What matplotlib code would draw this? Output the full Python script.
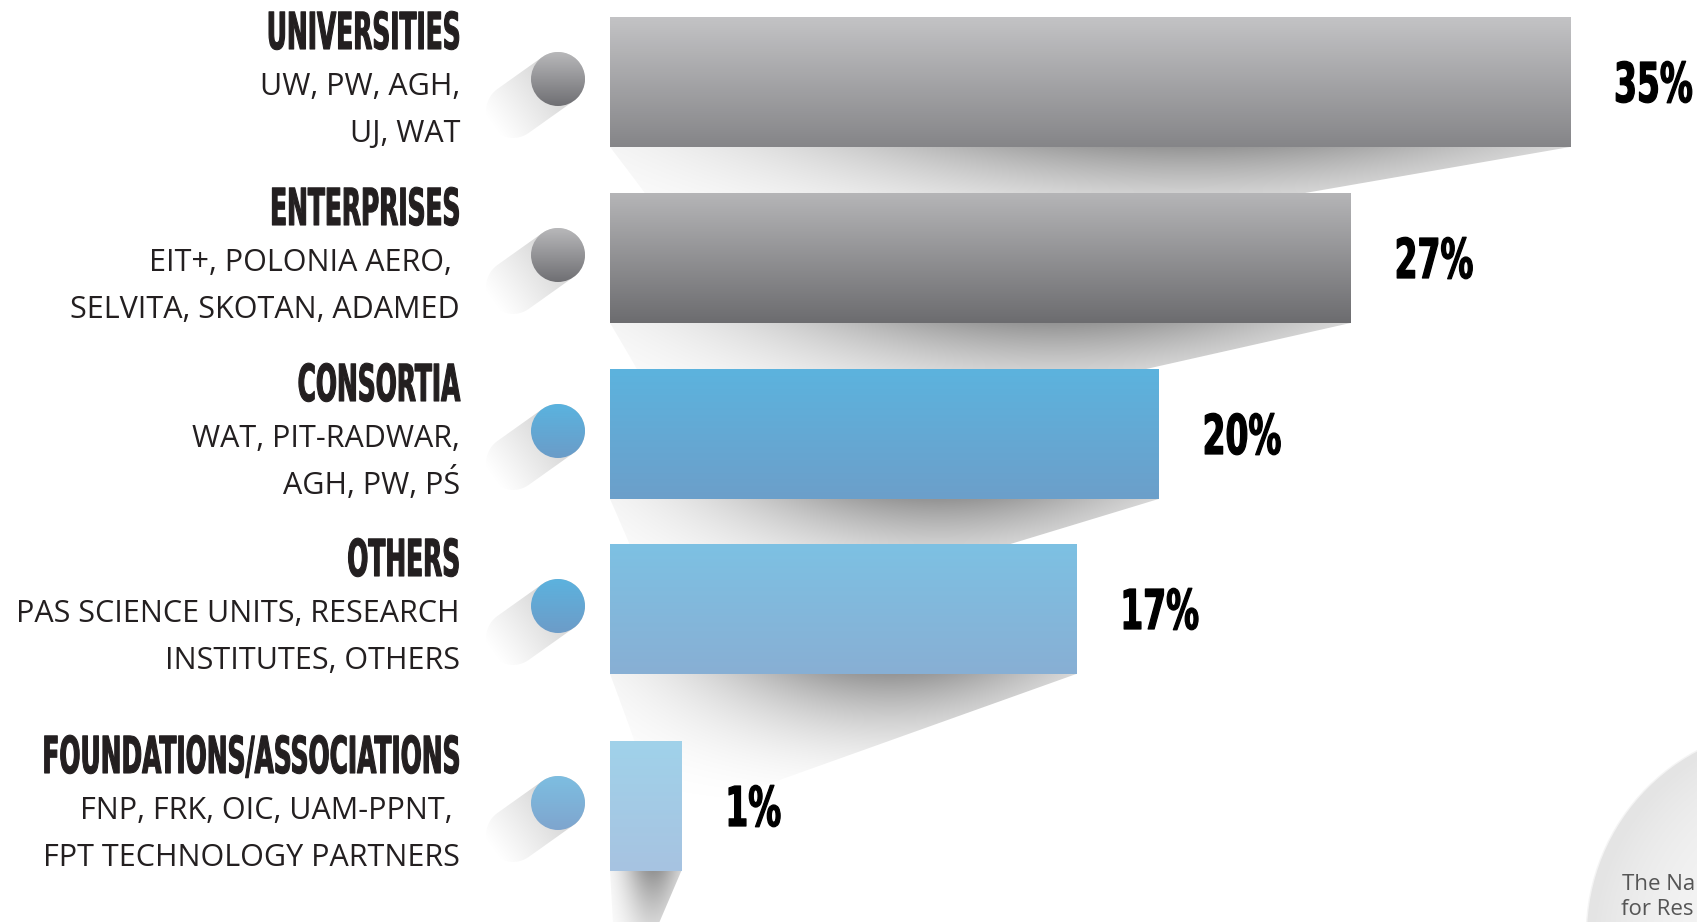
import numpy as np
import matplotlib
matplotlib.use('Agg')
import matplotlib.pyplot as plt
import matplotlib.patheffects as pe
from matplotlib.patches import Circle, Polygon
from matplotlib.text import Text
from matplotlib.transforms import Affine2D, Bbox
from matplotlib.colors import LinearSegmentedColormap

# ---- data ----
CATEGORIES = ['UNIVERSITIES', 'ENTERPRISES', 'CONSORTIA', 'OTHERS', 'FOUNDATIONS/ASSOCIATIONS']
MEMBERS_1 = ['UW, PW, AGH,', 'EIT+, POLONIA AERO, ', 'WAT, PIT-RADWAR,',
             'PAS SCIENCE UNITS, RESEARCH', 'FNP, FRK, OIC, UAM-PPNT, ']
MEMBERS_2 = ['UJ, WAT', 'SELVITA, SKOTAN, ADAMED', 'AGH, PW, PŚ',
             'INSTITUTES, OTHERS', 'FPT TECHNOLOGY PARTNERS']
SHARE = [35, 27, 20, 17, 1]

# ---- style ----
BAR_TOP = ['#c3c3c5', '#b5b5b7', '#5cb3de', '#7dc1e3', '#a0d2ea']
BAR_BOT = ['#858588', '#6c6c6f', '#6c9fca', '#88afd4', '#a7c3e1']
DOT_TOP = ['#b8b8ba', '#b8b8ba', '#5ab3df', '#5cb2de', '#7dbee1']
DOT_BOT = ['#6f6f73', '#6f6f73', '#6b9cc8', '#6d9cc8', '#7fa5ce']
TXT = '#231f20'

W, H = 1697, 922
ROW_Y = [82, 258, 434, 609, 806]   # row centres, px from top
BAR_H = 130
BAR_X0 = 610                       # px where 0 % sits
PX_PER_PCT = 27.43
MIN_W = 2.6                        # smallest drawn bar (1 % row)
LABEL_X = 460
DOT_X, DOT_R, DOT_DY = 558, 27, -3
SH_OFF = np.array([-45.0, 32.0])   # long shadow of the dots


class Stretch(pe.AbstractPathEffect):
    """draw the glyph paths taller, anchored at the text baseline"""
    def __init__(self, text, sy, lw):
        super().__init__()
        self.text, self.sy, self.lw = text, sy, lw

    def draw_path(self, renderer, gc, tpath, affine, rgbFace=None):
        y0 = self.text.get_transform().transform(self.text.get_position())[1]
        aff = affine + Affine2D().translate(0, -y0).scale(1, self.sy).translate(0, y0)
        gc0 = renderer.new_gc()
        gc0.copy_properties(gc)
        if self.lw and rgbFace is not None:
            gc0.set_linewidth(self.lw)
            gc0.set_foreground(rgbFace)
        renderer.draw_path(gc0, tpath, aff, rgbFace)
        gc0.restore()


class TallText(Text):
    def __init__(self, *a, sy=1.0, lw=0.0, **kw):
        super().__init__(*a, **kw)
        self._sy = sy
        self.set_path_effects([Stretch(self, sy, lw)])

    def get_window_extent(self, renderer=None, dpi=None):
        bb = super().get_window_extent(renderer, dpi)
        y0 = self.get_transform().transform(self.get_position())[1]
        return Bbox([[bb.x0, y0 + (bb.y0 - y0) * self._sy],
                     [bb.x1, y0 + (bb.y1 - y0) * self._sy]])


def tall_text(axis, x, y, s, sy, lw, **kw):
    t = TallText(x, y, s, sy=sy, lw=lw, **kw)
    t.set_transform(axis.transData)
    axis.add_artist(t)
    return t


def vgrad(axis, clip, x0, x1, y0, y1, c_top, c_bot, z):
    cm = LinearSegmentedColormap.from_list('g', [c_top, c_bot])
    im = axis.imshow(np.linspace(0, 1, 256)[:, None], cmap=cm, extent=(x0, x1, y1, y0),
                     origin='upper', aspect='auto', zorder=z, interpolation='bilinear')
    im.set_clip_path(clip)


def alpha_img(axis, clip, x0, x1, y0, y1, alpha, z, rgb=(0, 0, 0)):
    img = np.zeros(alpha.shape + (4,))
    img[..., :3] = rgb
    img[..., 3] = np.clip(alpha, 0, 1)
    im = axis.imshow(img, extent=(x0, x1, y1, y0), origin='upper', aspect='auto',
                     zorder=z, interpolation='bilinear')
    im.set_clip_path(clip)


fig = plt.figure(figsize=(W / 100, H / 100), dpi=100)
deco = fig.add_axes([0, 0, 1, 1], zorder=0)
ax = fig.add_axes([0, 0, 1, 1], zorder=1)
for a in (deco, ax):
    a.axis('off')
deco.set_xlim(0, W); deco.set_ylim(H, 0)
ax.set_xlim(-BAR_X0 / PX_PER_PCT, (W - BAR_X0) / PX_PER_PCT); ax.set_ylim(H, 0)

# ---- bars ----
shown = [max(v, MIN_W) for v in SHARE]
bars = ax.barh(ROW_Y, shown, left=0, height=BAR_H, color='none', edgecolor='none', zorder=3)
to_px = ax.transData + deco.transData.inverted()
for i, b in enumerate(bars):
    x0, y0, bw, bh = b.get_x(), b.get_y(), b.get_width(), b.get_height()
    vgrad(ax, b, x0, x0 + bw, y0, y0 + bh, BAR_TOP[i], BAR_BOT[i], 3)

    # soft fan shadow under the bar, in px
    xl = to_px.transform((x0, 0))[0]
    xr = to_px.transform((x0 + bw, 0))[0]
    yb = y0 + bh
    D = 150.0
    s = 0.006 * (xr - xl)
    xe = xr - s * D
    tt = np.linspace(0, 1, 40)
    cx_, cy_ = xl + 0.12 * (xr - xl), yb + D
    curve = [((1 - t) ** 2 * xe + 2 * (1 - t) * t * cx_ + t ** 2 * xl,
              (1 - t) ** 2 * (yb + D) + 2 * (1 - t) * t * cy_ + t ** 2 * yb) for t in tt]
    poly = Polygon([(xl, yb), (xr, yb)] + curve, closed=True, facecolor='none', edgecolor='none')
    deco.add_patch(poly)
    X, Y = np.meshgrid(np.linspace(xl, xr, 300), np.linspace(yb, yb + D, 120))
    u = (X - xl) / (xr - xl)
    t = (Y - yb) / D
    al = 0.42 * (1 - t) ** 2.2 * np.exp(-((u - 0.6) / 0.4) ** 2)
    alpha_img(deco, poly, xl, xr, yb, yb + D, al, 1)

# ---- percentage labels ----
for i, b in enumerate(bars):
    tall_text(ax, b.get_x() + b.get_width() + 44 / PX_PER_PCT, ROW_Y[i] + 20, f'{SHARE[i]}%',
              1.667, 0.9, ha='left', va='baseline', fontfamily='DejaVu Sans',
              fontweight='bold', fontsize=23.7, color='black', zorder=5)

# ---- dots with long shadows, and text ----
L = np.hypot(*SH_OFF)
d = SH_OFF / L
th = np.arctan2(d[1], d[0])
for i, c in enumerate(ROW_Y):
    C = np.array([DOT_X, c + DOT_DY])
    F = C + SH_OFF
    a1 = np.linspace(th - np.pi / 2, th + np.pi / 2, 40)
    a2 = np.linspace(th + np.pi / 2, th + 3 * np.pi / 2, 40)
    pts = np.vstack([F + DOT_R * np.c_[np.cos(a1), np.sin(a1)],
                     C + DOT_R * np.c_[np.cos(a2), np.sin(a2)]])
    cap = Polygon(pts, closed=True, facecolor='none', edgecolor='none')
    deco.add_patch(cap)
    bx0, by0 = pts.min(axis=0)
    bx1, by1 = pts.max(axis=0)
    X, Y = np.meshgrid(np.linspace(bx0, bx1, 120), np.linspace(by0, by1, 120))
    p = ((X - C[0]) * d[0] + (Y - C[1]) * d[1]) / (L + DOT_R)
    al = 0.17 * (1 - np.clip(p, 0, 1)) ** 1.1
    alpha_img(deco, cap, bx0, bx1, by0, by1, al, 1)

    dot = Circle(C, DOT_R, facecolor='none', edgecolor='none', zorder=2)
    deco.add_patch(dot)
    vgrad(deco, dot, C[0] - DOT_R, C[0] + DOT_R, C[1] - DOT_R, C[1] + DOT_R,
          DOT_TOP[i], DOT_BOT[i], 2)

    tall_text(deco, LABEL_X, c - 33, CATEGORIES[i], 2.05, 0.8, ha='right', va='baseline',
              fontfamily='DejaVu Sans', fontweight='bold', fontsize=17.9, color=TXT, zorder=4)
    deco.text(LABEL_X, c + 13, MEMBERS_1[i], ha='right', va='baseline',
              fontfamily='Open Sans', fontsize=22.0, color=TXT, zorder=4)
    deco.text(LABEL_X, c + 60, MEMBERS_2[i], ha='right', va='baseline',
              fontfamily='Open Sans', fontsize=22.0, color=TXT, zorder=4)

# ---- logo disc in the corner ----
wm = Circle((1795, 935), 208, facecolor='none', edgecolor='#f4f4f4', lw=2, zorder=1)
deco.add_patch(wm)
X, Y = np.meshgrid(np.linspace(1587, 2003, 200), np.linspace(727, 1143, 200))
rr = np.hypot(X - 1820, Y - 950) / 230
g = 0.965 - 0.07 * np.clip(rr, 0, 1) ** 3
img = np.dstack([g, g, g, np.ones_like(g)])
im = deco.imshow(img, extent=(1587, 2003, 1143, 727), origin='upper', aspect='auto',
                 zorder=1, interpolation='bilinear')
im.set_clip_path(wm)
deco.text(1622, 890, 'The Na', ha='left', va='baseline', fontfamily='Open Sans',
          fontsize=16, color='#555555', zorder=4)
deco.text(1621, 915, 'for Res', ha='left', va='baseline', fontfamily='Open Sans',
          fontsize=16, color='#555555', zorder=4)

deco.set_xlim(0, W); deco.set_ylim(H, 0)
ax.set_xlim(-BAR_X0 / PX_PER_PCT, (W - BAR_X0) / PX_PER_PCT); ax.set_ylim(H, 0)
fig.savefig('out.png', dpi=100, facecolor='white')
